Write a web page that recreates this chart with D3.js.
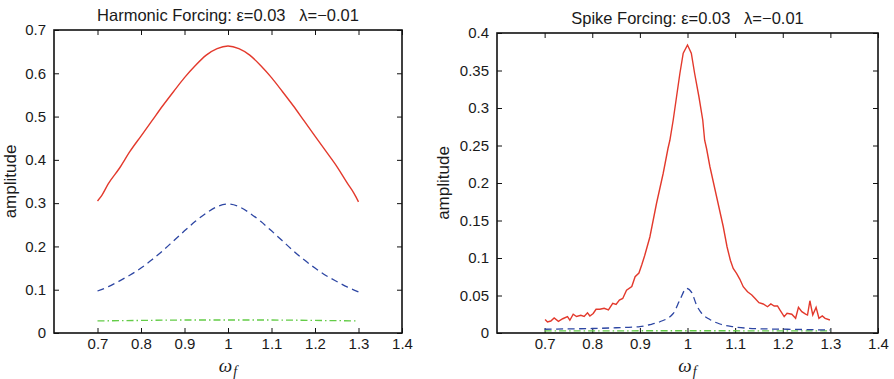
<!DOCTYPE html>
<html>
<head>
<meta charset="utf-8">
<script src="https://cdn.jsdelivr.net/npm/d3@7"></script>
<style>
  body { margin: 0; background: #fff; }
  svg { display: block; font-family: "Liberation Sans", Arial, sans-serif; }
</style>
</head>
<body>
<div id="chart"></div>
<script>
// ---- data ----
// left panel: harmonic forcing
var harmRedW = [0.70, 0.71, 0.725, 0.75, 0.775, 0.80, 0.825, 0.85, 0.875, 0.90, 0.925, 0.95, 0.975, 1.00,
                1.025, 1.05, 1.075, 1.10, 1.125, 1.15, 1.175, 1.20, 1.225, 1.25, 1.275, 1.29, 1.30];
var harmRedA = [0.305, 0.318, 0.345, 0.38, 0.42, 0.455, 0.49, 0.525, 0.558, 0.59, 0.618, 0.642, 0.657, 0.663,
                0.657, 0.642, 0.618, 0.59, 0.558, 0.525, 0.49, 0.455, 0.42, 0.385, 0.345, 0.322, 0.303];

var harmBlueW = [0.70, 0.725, 0.75, 0.775, 0.80, 0.825, 0.85, 0.875, 0.90, 0.925, 0.95, 0.975, 1.00,
                 1.025, 1.05, 1.075, 1.10, 1.125, 1.15, 1.175, 1.20, 1.225, 1.25, 1.275, 1.30];
var harmBlueA = [0.097, 0.107, 0.12, 0.134, 0.15, 0.169, 0.19, 0.213, 0.236, 0.258, 0.277, 0.292, 0.298,
                 0.292, 0.277, 0.258, 0.236, 0.213, 0.19, 0.169, 0.15, 0.133, 0.119, 0.106, 0.095];

var harmGreenW = [0.70, 0.80, 0.90, 1.00, 1.10, 1.20, 1.30];
var harmGreenA = [0.028, 0.029, 0.030, 0.030, 0.030, 0.029, 0.028];

// right panel: spike forcing
var spikeRedW = [0.701, 0.706, 0.713, 0.720, 0.729, 0.738, 0.748, 0.753, 0.760, 0.767, 0.776, 0.783, 0.790,
                 0.795, 0.802, 0.808, 0.816, 0.825, 0.834, 0.843, 0.850, 0.857, 0.864, 0.872, 0.883, 0.890,
                 0.898, 0.904, 0.910, 0.921, 0.935, 0.949, 0.959, 0.963, 0.970, 0.977, 0.984, 0.991, 1.000,
                 1.008, 1.015, 1.024, 1.032, 1.036, 1.040, 1.047, 1.061, 1.075, 1.083, 1.090, 1.096, 1.103,
                 1.110, 1.117, 1.126, 1.135, 1.142, 1.150, 1.159, 1.168, 1.175, 1.182, 1.189, 1.194, 1.203,
                 1.209, 1.219, 1.227, 1.233, 1.240, 1.248, 1.252, 1.257, 1.263, 1.270, 1.276, 1.283, 1.289, 1.299];
var spikeRedA = [0.018, 0.0147, 0.016, 0.020, 0.0156, 0.019, 0.0217, 0.017, 0.025, 0.022, 0.0236, 0.022, 0.027,
                 0.0227, 0.026, 0.0316, 0.0316, 0.033, 0.0307, 0.0396, 0.038, 0.044, 0.046, 0.057, 0.062, 0.075,
                 0.080, 0.091, 0.103, 0.128, 0.173, 0.213, 0.246, 0.257, 0.284, 0.315, 0.346, 0.373, 0.384,
                 0.373, 0.346, 0.315, 0.284, 0.257, 0.246, 0.222, 0.182, 0.142, 0.115, 0.097, 0.086, 0.0796,
                 0.0716, 0.0617, 0.055, 0.0507, 0.046, 0.0404, 0.0387, 0.035, 0.0387, 0.036, 0.036, 0.0307, 0.0218,
                 0.0262, 0.025, 0.0196, 0.0342, 0.0285, 0.0253, 0.024, 0.043, 0.024, 0.0342, 0.0196, 0.0227, 0.0196, 0.0173];

var spikeBlueW = [0.70, 0.75, 0.80, 0.85, 0.90, 0.92, 0.942, 0.970, 0.984, 0.998, 1.009, 1.019, 1.030,
                  1.047, 1.068, 1.096, 1.145, 1.21, 1.30];
var spikeBlueA = [0.005, 0.0055, 0.006, 0.007, 0.0084, 0.011, 0.015, 0.026, 0.044, 0.0596, 0.0538, 0.0373, 0.026,
                  0.018, 0.012, 0.0084, 0.0058, 0.005, 0.004];

var spikeGreenW = [0.70, 1.00, 1.30];
var spikeGreenA = [0.0028, 0.003, 0.0028];

var xTicks = [0.7, 0.8, 0.9, 1, 1.1, 1.2, 1.3, 1.4];
var harmYTicks = [0, 0.1, 0.2, 0.3, 0.4, 0.5, 0.6, 0.7];
var spikeYTicks = [0, 0.05, 0.1, 0.15, 0.2, 0.25, 0.3, 0.35, 0.4];

var RED = "#e3392c", BLUE = "#2d46a3", GREEN = "#63cc47";

function zip(w, a) {
    return w.map(function(d, i) { return { w: d, a: a[i] }; });
}

var svg = d3.select("#chart").append("svg")
    .attr("width", 894)
    .attr("height", 379);

function drawPanel(p) {
    var width = p.right - p.left,
        height = p.bottom - p.top;

    var g = svg.append("g")
        .attr("transform", "translate(" + p.left + "," + p.top + ")");

    var x = d3.scaleLinear().domain([0.6, 1.4]).range([0, width]);
    var y = d3.scaleLinear().domain([0, p.ymax]).range([height, 0]);

    var fmt = function(d) { return String(+d.toFixed(2)); };

    // bottom / top / left / right axes, ticks pointing inward
    g.append("g")
        .attr("transform", "translate(0," + height + ")")
        .call(d3.axisBottom(x).tickValues(xTicks).tickSizeInner(-5).tickSizeOuter(0).tickPadding(5).tickFormat(fmt));
    g.append("g")
        .call(d3.axisTop(x).tickValues(xTicks).tickSizeInner(-5).tickSizeOuter(0).tickFormat(""));
    g.append("g")
        .call(d3.axisLeft(y).tickValues(p.yTicks).tickSizeInner(-5).tickSizeOuter(0).tickPadding(8).tickFormat(fmt));
    g.append("g")
        .attr("transform", "translate(" + width + ",0)")
        .call(d3.axisRight(y).tickValues(p.yTicks).tickSizeInner(-5).tickSizeOuter(0).tickFormat(""));

    g.selectAll(".domain").remove();
    g.selectAll(".tick line").attr("stroke", "#111").attr("stroke-width", 1);
    g.selectAll(".tick text")
        .attr("fill", "#1a1a1a")
        .style("font-size", "15px");

    // the box
    g.append("rect")
        .attr("width", width)
        .attr("height", height)
        .attr("fill", "none")
        .attr("stroke", "#111")
        .attr("stroke-width", 1.6);

    var line = function(curve) {
        return d3.line()
            .x(function(d) { return x(d.w); })
            .y(function(d) { return y(d.a); })
            .curve(curve);
    };

    g.append("path")
        .datum(zip(p.greenW, p.greenA))
        .attr("d", line(d3.curveMonotoneX))
        .attr("fill", "none")
        .attr("stroke", GREEN)
        .attr("stroke-width", 1.3)
        .attr("stroke-dasharray", "7,3,1.5,3");

    g.append("path")
        .datum(zip(p.blueW, p.blueA))
        .attr("d", line(d3.curveMonotoneX))
        .attr("fill", "none")
        .attr("stroke", BLUE)
        .attr("stroke-width", 1.3)
        .attr("stroke-dasharray", "7,4.5");

    g.append("path")
        .datum(zip(p.redW, p.redA))
        .attr("d", line(p.redCurve))
        .attr("fill", "none")
        .attr("stroke", RED)
        .attr("stroke-width", 1.4);

    // title (keep the wide gap before lambda)
    g.append("text")
        .attr("x", width / 2)
        .attr("y", p.titleY)
        .attr("text-anchor", "middle")
        .attr("fill", "#1a1a1a")
        .style("font-size", "16.5px")
        .style("white-space", "pre")
        .text(p.title);

    // y label
    g.append("text")
        .attr("transform", "translate(" + p.ylabX + "," + (height / 2) + ") rotate(-90)")
        .attr("text-anchor", "middle")
        .attr("fill", "#1a1a1a")
        .style("font-size", "17px")
        .text("amplitude");

    // x label: omega_f
    var xl = g.append("text")
        .attr("x", width / 2)
        .attr("y", height + 39)
        .attr("text-anchor", "middle")
        .attr("fill", "#1a1a1a")
        .style("font-family", "'Liberation Serif', 'DejaVu Serif', serif")
        .style("font-style", "italic")
        .style("font-size", "19px");
    xl.append("tspan").text("ω");
    xl.append("tspan").attr("dx", 1).attr("dy", 4).style("font-size", "14px").text("f");
}

drawPanel({
    left: 54, right: 402, top: 30, bottom: 333,
    ymax: 0.7, yTicks: harmYTicks,
    redW: harmRedW, redA: harmRedA, redCurve: d3.curveMonotoneX,
    blueW: harmBlueW, blueA: harmBlueA,
    greenW: harmGreenW, greenA: harmGreenA,
    title: "Harmonic Forcing: ε=0.03   λ=−0.01", titleY: -9, ylabX: -38
});

drawPanel({
    left: 497, right: 878, top: 33, bottom: 333,
    ymax: 0.4, yTicks: spikeYTicks,
    redW: spikeRedW, redA: spikeRedA, redCurve: d3.curveLinear,
    blueW: spikeBlueW, blueA: spikeBlueA,
    greenW: spikeGreenW, greenA: spikeGreenA,
    title: "Spike Forcing: ε=0.03   λ=−0.01", titleY: -9, ylabX: -48
});
</script>
</body>
</html>
